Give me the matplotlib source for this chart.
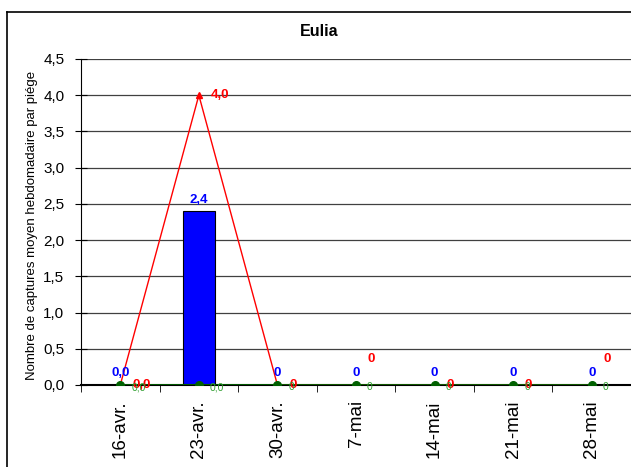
import numpy as np
import matplotlib
matplotlib.use('Agg')
import matplotlib.pyplot as plt
from matplotlib.lines import Line2D

plt.rcParams['font.family'] = ['Liberation Sans', 'DejaVu Sans']

dates = ['16-avr.', '23-avr.', '30-avr.', '7-mai', '14-mai', '21-mai', '28-mai']
barres = [0.0, 2.4, 0.0, 0.0, 0.0, 0.0, 0.0]
rouge = [0.0, 4.0, 0.0, 0.0, 0.0, 0.0, 0.0]
vert = [0.0, 0.0, 0.0, 0.0, 0.0, 0.0, 0.0]
lab_barres = ['0,0', '2,4', '0', '0', '0', '0', '0']
lab_rouge = ['0,0', '4,0', '0', '0', '0', '0', '0']
lab_vert = ['0,0', '0,0', '0', '0', '0', '0', '0']
rouge_haut = [False, False, False, True, False, False, True]

x = np.arange(len(dates))

fig = plt.figure(figsize=(6.31, 4.67), dpi=100)
ax = fig.add_axes([81/631, 82/467, 550/631, 326/467])

# cadre du graphique
fig.add_artist(Line2D([7/631, 7/631], [-0.1, 1-12/467], color='black', lw=1.2, transform=fig.transFigure))
fig.add_artist(Line2D([7/631, 1.1], [1-12/467, 1-12/467], color='black', lw=1.2, transform=fig.transFigure))

for yv in np.arange(0.5, 4.51, 0.5):
    ax.axhline(yv, color='#404040', lw=0.9, zorder=0)

ax.bar(x, barres, width=0.41, color='#0000ff', edgecolor='black', lw=0.8, zorder=2)
ax.plot(x, rouge, color='red', lw=1, marker='^', ms=5, zorder=3)
ax.plot(x, vert, color='#006000', lw=1.3, marker='o', ms=5.5, zorder=4)

for i in range(len(x)):
    ax.annotate(lab_barres[i], (x[i], barres[i]), xytext=(0, 4), textcoords='offset points',
                ha='center', va='bottom', color='#0000ff', fontsize=9.5, fontweight='bold', zorder=6)
    dy = 19 if rouge_haut[i] else 0
    ax.annotate(lab_rouge[i], (x[i], rouge[i]), xytext=(8.5, dy), textcoords='offset points',
                ha='left', va='center', color='red', fontsize=9.5, fontweight='bold', zorder=5)
    ax.annotate(lab_vert[i], (x[i], vert[i]), xytext=(8, -1.5),
                textcoords='offset points', ha='left', va='center', color='#33a033', fontsize=7.5, zorder=6)

ax.set_xlim(-0.5, len(x) - 0.5)
ax.set_ylim(0, 4.5)
ax.set_yticks(np.arange(0, 4.51, 0.5))
ax.set_yticklabels([f'{v:.1f}'.replace('.', ',') for v in np.arange(0, 4.51, 0.5)], fontsize=11)
ax.set_xticks(x)
ax.set_xticklabels(dates, rotation=90, fontsize=13.5)
ax.set_xticks(np.arange(-0.5, len(x), 1), minor=True)
ax.tick_params(axis='x', which='major', length=0, pad=11)
ax.tick_params(axis='x', which='minor', length=5, direction='out')
ax.tick_params(axis='y', length=8, direction='inout', pad=8)

for s in ['top', 'right']:
    ax.spines[s].set_visible(False)
ax.spines['left'].set_color('black')
ax.spines['bottom'].set_linewidth(1.5)

ax.set_ylabel('Nombre de captures moyen hebdomadaire par piége', fontsize=9.5)
ax.yaxis.set_label_coords(-0.078, 0.49)

fig.text(319/631, 1-32/467, 'Eulia', ha='center', va='center', fontsize=11.5, fontweight='bold')

fig.savefig('out.png', dpi=100)
